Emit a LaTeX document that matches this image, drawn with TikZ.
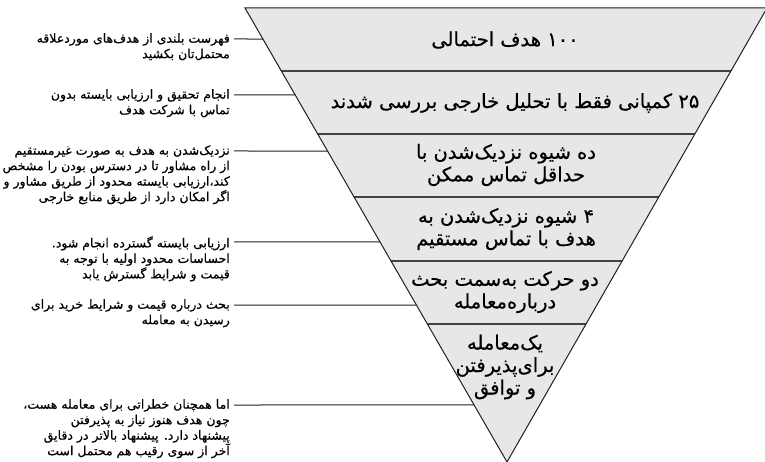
\documentclass[tikz,border=0pt]{standalone}
\usepackage{fontspec}
\usetikzlibrary{calc}
\TeXXeTstate=1
\newfontfamily\arabicfont[Script=Arabic,FakeBold=0.5]{DejaVu Sans}
\newcommand{\fa}[1]{\beginR #1\endR}
\definecolor{funnelgray}{HTML}{E6E7E8}
\definecolor{lineblack}{HTML}{231F20}
\tikzset{
  note/.style={anchor=north east, align=right, inner sep=0pt,
    font=\arabicfont\fontsize{12.5}{15.5}\selectfont},
  stage/.style={align=center, inner sep=0pt,
    font=\arabicfont\fontsize{19.5}{22.5}\selectfont},
  leader/.style={draw=lineblack, line width=1pt},
}
\begin{document}
\begin{tikzpicture}[x=1pt,y=-1pt]
\useasboundingbox (0,0) rectangle (765,462);
\coordinate (tl) at (245,8);
\coordinate (tr) at (767,8);
\coordinate (ap) at (507,462);
\fill[funnelgray] (tl) -- (tr) -- (ap) -- cycle;
\foreach \f in {0.1388,0.2775,0.4163,0.5573,0.6960}
  \draw[draw=lineblack!85, line width=1.1pt] ($(tl)!\f!(ap)$) -- ($(tr)!\f!(ap)$);
\draw[draw=lineblack, line width=1pt, line join=miter] (tl) -- (tr) -- (ap) -- cycle;

\node[stage] (s1) at (505,40) {\fa{\beginL ۱۰۰\endL{} هدف احتمالی}};
\node[stage] (s2) at (515,103) {\fa{\beginL ۲۵\endL{} کمپانی فقط با تحلیل خارجی بررسی شدند}};
\node[stage] (s3) at (506,165) {\fa{ده شیوه نزدیک‌شدن با}\\\fa{حداقل تماس ممکن}};
\node[stage] (s4) at (506,229) {\fa{\beginL ۴\endL{} شیوه نزدیک‌شدن به}\\\fa{هدف با تماس مستقیم}};
\node[stage] (s5) at (505,292) {\fa{دو حرکت به‌سمت بحث}\\\fa{درباره‌معامله}};
\node[stage] (s6) at (505,367) {\fa{یک‌معامله}\\\fa{برای‌پذیرفتن}\\\fa{و توافق}};

\coordinate (l1) at (234,39);
\coordinate (l2) at (234,95);
\coordinate (l3) at (234,151);
\coordinate (l4) at (234,242);
\coordinate (l5) at (234,305);
\coordinate (l6) at (234,405);
\coordinate (e1) at ($(tl)!0.0683!(ap)$);
\coordinate (e2) at ($(tl)!0.1916!(ap)$);
\coordinate (e3) at ($(tl)!0.3150!(ap)$);
\coordinate (e4) at ($(tl)!0.5154!(ap)$);
\coordinate (e5) at ($(tl)!0.6542!(ap)$);
\coordinate (e6) at ($(tl)!0.8744!(ap)$);
\foreach \i in {1,...,6}
  \draw[leader] (l\i) -- (e\i);

\node[note] (n1) at (230,33) {\fa{فهرست بلندی از هدف‌های موردعلاقه}\\\fa{محتمل‌تان بکشید}};
\node[note] (n2) at (230,89) {\fa{انجام تحقیق و ارزیابی بایسته بدون}\\\fa{تماس با شرکت هدف}};
\node[note] (n3) at (230,145) {\fa{نزدیک‌شدن به هدف به صورت غیرمستقیم}\\\fa{از راه مشاور تا در دسترس بودن را مشخص}\\\fa{کند،ارزیابی بایسته محدود از طریق مشاور و}\\\fa{اگر امکان دارد از طریق منابع خارجی}};
\node[note] (n4) at (230,236) {\fa{ارزیابی بایسته گسترده انجام شود.}\\\fa{احساسات محدود اولیه با توجه به}\\\fa{قیمت و شرایط گسترش یابد}};
\node[note] (n5) at (230,299) {\fa{بحث درباره قیمت و شرایط خرید برای}\\\fa{رسیدن به معامله}};
\node[note] (n6) at (230,399) {\fa{اما همچنان خطراتی برای معامله هست،}\\\fa{چون هدف هنوز نیاز به پذیرفتن}\\\fa{پیشنهاد دارد. پیشنهاد بالاتر در دقایق}\\\fa{آخر از سوی رقیب هم محتمل است}};
\end{tikzpicture}
\end{document}
